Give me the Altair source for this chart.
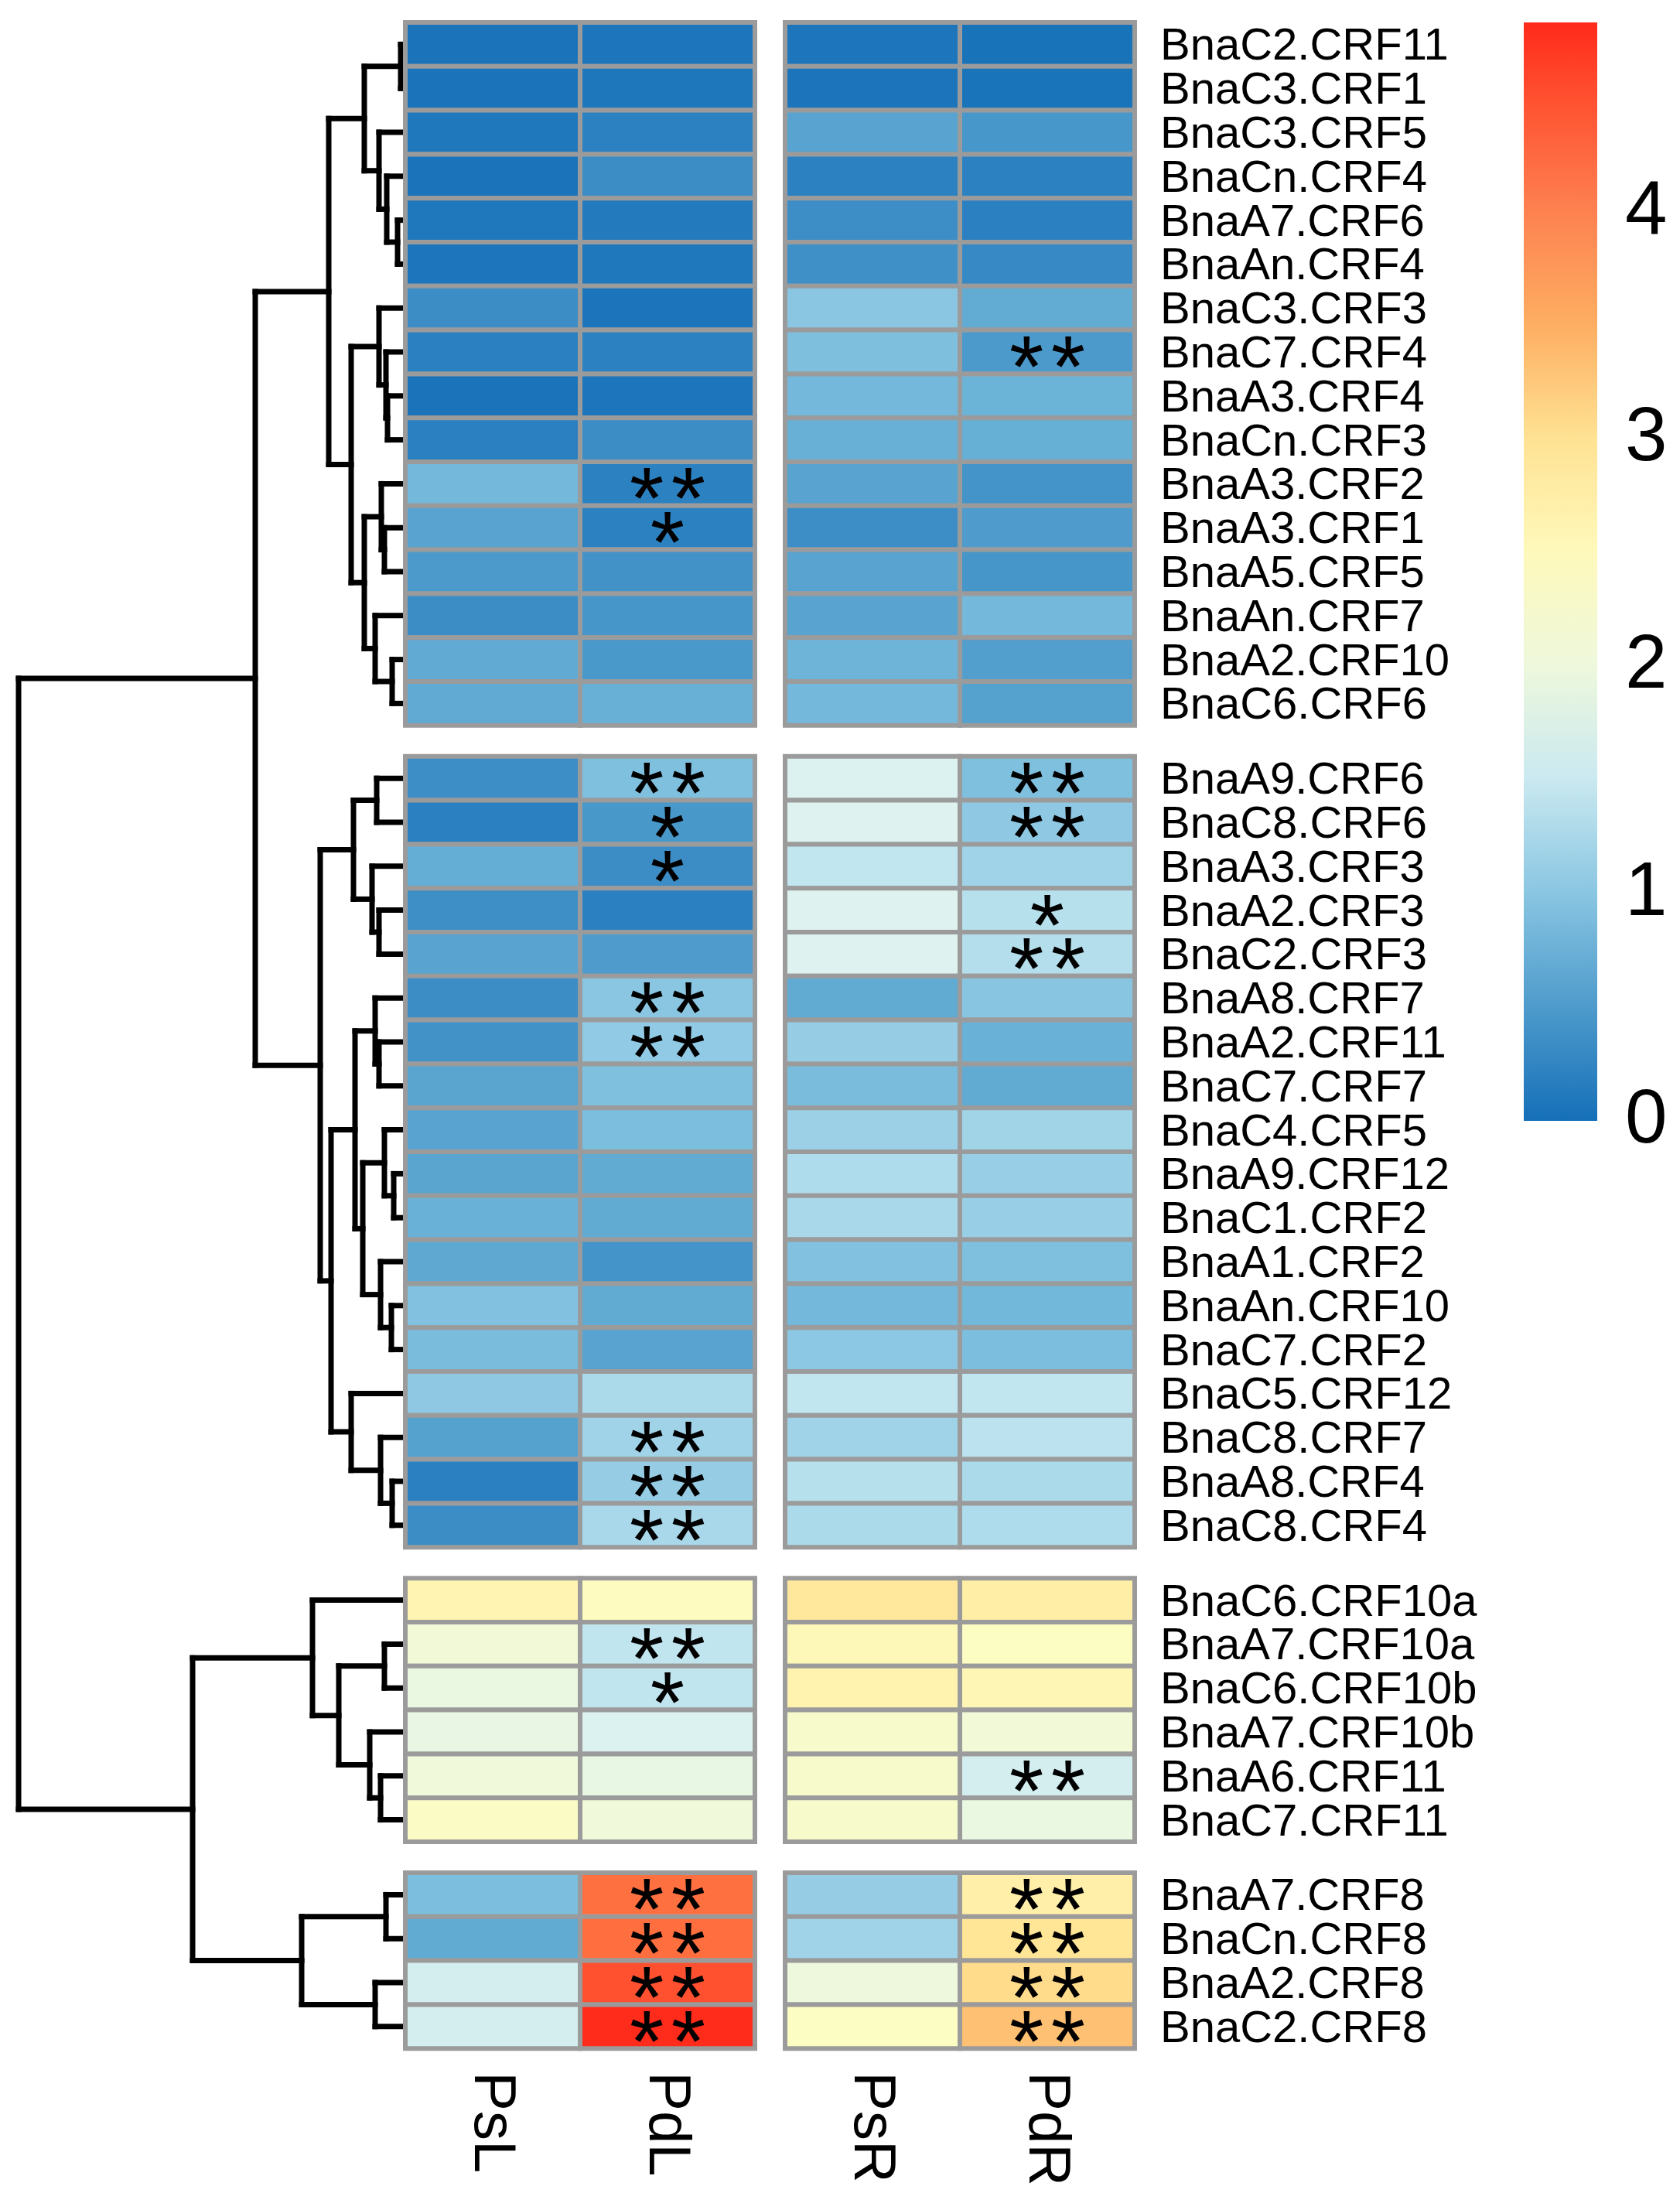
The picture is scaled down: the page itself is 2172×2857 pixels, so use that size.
import altair as alt
import pandas as pd

# ---------------- data ----------------
genes = [
    "BnaC2.CRF11", "BnaC3.CRF1", "BnaC3.CRF5", "BnaCn.CRF4", "BnaA7.CRF6", "BnaAn.CRF4",
    "BnaC3.CRF3", "BnaC7.CRF4", "BnaA3.CRF4", "BnaCn.CRF3", "BnaA3.CRF2", "BnaA3.CRF1",
    "BnaA5.CRF5", "BnaAn.CRF7", "BnaA2.CRF10", "BnaC6.CRF6",
    "BnaA9.CRF6", "BnaC8.CRF6", "BnaA3.CRF3", "BnaA2.CRF3", "BnaC2.CRF3", "BnaA8.CRF7",
    "BnaA2.CRF11", "BnaC7.CRF7", "BnaC4.CRF5", "BnaA9.CRF12", "BnaC1.CRF2", "BnaA1.CRF2",
    "BnaAn.CRF10", "BnaC7.CRF2", "BnaC5.CRF12", "BnaC8.CRF7", "BnaA8.CRF4", "BnaC8.CRF4",
    "BnaC6.CRF10a", "BnaA7.CRF10a", "BnaC6.CRF10b", "BnaA7.CRF10b", "BnaA6.CRF11", "BnaC7.CRF11",
    "BnaA7.CRF8", "BnaCn.CRF8", "BnaA2.CRF8", "BnaC2.CRF8",
]
group_sizes = [16, 18, 6, 4]
columns = ["PsL", "PdL", "PsR", "PdR"]

psl = [0.05, 0.05, 0.10, 0.05, 0.10, 0.07, 0.35, 0.20, 0.05, 0.20, 0.82, 0.58, 0.48, 0.35, 0.65, 0.65,
       0.36, 0.20, 0.68, 0.37, 0.58, 0.35, 0.40, 0.60, 0.58, 0.60, 0.73, 0.63, 0.93, 0.86, 1.03, 0.57, 0.20, 0.35,
       2.65, 2.10, 1.92, 1.90, 2.05, 2.35,
       0.88, 0.66, 1.60, 1.60]
pdl = [0.07, 0.08, 0.22, 0.35, 0.13, 0.10, 0.06, 0.22, 0.07, 0.35, 0.22, 0.22, 0.40, 0.44, 0.47, 0.72,
       0.92, 0.46, 0.35, 0.20, 0.50, 1.00, 1.06, 0.92, 0.88, 0.66, 0.66, 0.42, 0.66, 0.58, 1.27, 1.18, 1.10, 1.25,
       2.45, 1.42, 1.42, 1.68, 1.88, 2.05,
       4.20, 4.22, 4.50, 4.82]
psr = [0.07, 0.06, 0.58, 0.22, 0.36, 0.38, 1.00, 0.90, 0.82, 0.72, 0.58, 0.36, 0.58, 0.58, 0.76, 0.82,
       1.68, 1.70, 1.43, 1.70, 1.70, 0.66, 1.10, 0.86, 1.14, 1.30, 1.25, 0.93, 0.82, 1.02, 1.43, 1.18, 1.35, 1.27,
       2.90, 2.55, 2.68, 2.25, 2.25, 2.25,
       1.10, 1.18, 2.00, 2.38]
pdr = [0.03, 0.04, 0.45, 0.22, 0.20, 0.30, 0.67, 0.48, 0.75, 0.70, 0.42, 0.50, 0.44, 0.82, 0.53, 0.57,
       0.92, 1.03, 1.18, 1.35, 1.33, 0.98, 0.73, 0.66, 1.20, 1.12, 1.12, 0.91, 0.80, 0.88, 1.43, 1.38, 1.27, 1.30,
       2.78, 2.38, 2.60, 2.10, 1.60, 1.92,
       2.75, 2.95, 3.10, 3.35]

sig_gene = ["BnaC7.CRF4", "BnaA3.CRF2", "BnaA3.CRF1", "BnaA9.CRF6", "BnaA9.CRF6", "BnaC8.CRF6",
            "BnaC8.CRF6", "BnaA3.CRF3", "BnaA2.CRF3", "BnaC2.CRF3", "BnaA8.CRF7", "BnaA2.CRF11",
            "BnaC8.CRF7", "BnaA8.CRF4", "BnaC8.CRF4", "BnaA7.CRF10a", "BnaC6.CRF10b", "BnaA6.CRF11",
            "BnaA7.CRF8", "BnaA7.CRF8", "BnaCn.CRF8", "BnaCn.CRF8", "BnaA2.CRF8", "BnaA2.CRF8",
            "BnaC2.CRF8", "BnaC2.CRF8"]
sig_col = ["PdR", "PdL", "PdL", "PdL", "PdR", "PdL",
           "PdR", "PdL", "PdR", "PdR", "PdL", "PdL",
           "PdL", "PdL", "PdL", "PdL", "PdL", "PdR",
           "PdL", "PdR", "PdL", "PdR", "PdL", "PdR",
           "PdL", "PdR"]
sig_mark = ["**", "**", "*", "**", "**", "*",
            "**", "*", "*", "**", "**", "**",
            "**", "**", "**", "**", "*", "**",
            "**", "**", "**", "**", "**", "**",
            "**", "**"]

# hierarchical clustering of rows: (child a, child b, merge height); ints = leaf rows, "nK" = K-th merge
merges = [
    (0, 1, 6), (4, 5, 10), (3, "n1", 24), (2, "n2", 34), ("n0", "n3", 53),
    (8, 9, 23), (7, "n5", 25), (6, "n6", 34), (11, 12, 27), (10, "n8", 31),
    (14, 15, 17), (13, "n10", 39), ("n9", "n11", 53), ("n7", "n12", 70), ("n4", "n13", 99),
    (16, 17, 37), (19, 20, 34), (18, "n16", 43), ("n15", "n17", 67),
    (22, 23, 34), (21, "n19", 39), (25, 26, 15), (24, "n21", 27), (28, 29, 18),
    (27, "n23", 32), ("n22", "n24", 55), ("n20", "n25", 65), (32, 33, 17), (31, "n27", 32),
    (30, "n28", 70), ("n26", "n29", 96), ("n18", "n30", 110), ("n14", "n31", 194),
    (35, 36, 27), (38, 39, 32), (37, "n34", 46), ("n33", "n35", 86), (34, "n36", 120),
    (40, 41, 25), (42, 43, 39), ("n38", "n39", 134), ("n37", "n40", 275),
    ("n32", "n41", 500),
]

# ---------------- layout ----------------
W, H = 2150, 2835
CELL_W, CELL_H = 226.0, 56.8
LEFT_PX, TOP_PX = 516.0, 21.0          # heatmap top-left inside the view
GAP_COL = 39.0 / CELL_W                 # gap between the two panels (column units)
GAP_ROW = 40.0 / CELL_H                 # gap between row groups (row units)
DENDRO_PX = 500.0                       # width of the dendrogram
HSCALE = DENDRO_PX / 500.0 / CELL_W
STAR_FS = 114

x_dom = [-LEFT_PX / CELL_W, (W - LEFT_PX) / CELL_W]
y_dom = [-TOP_PX / CELL_H, (H - TOP_PX) / CELL_H]
xs = alt.Scale(domain=x_dom, nice=False, zero=False)
ys = alt.Scale(domain=y_dom, nice=False, zero=False, reverse=True)

grp = []
for g, n in enumerate(group_sizes):
    grp += [g] * n
row_top = [k + grp[k] * GAP_ROW for k in range(len(genes))]
col_left = [j + (GAP_COL if j >= 2 else 0.0) for j in range(4)]

vals = {"PsL": psl, "PdL": pdl, "PsR": psr, "PdR": pdr}
cells = []
for j, c in enumerate(columns):
    for k, gname in enumerate(genes):
        cells.append(dict(gene=gname, col=c, v=vals[c][k],
                          x=col_left[j], x2=col_left[j] + 1, y=row_top[k], y2=row_top[k] + 1))
cells = pd.DataFrame(cells)

stars = pd.DataFrame([
    dict(gene=gname, col=c, mark="\u200a".join(m),
         x=col_left[columns.index(c)] + 0.5, y=row_top[genes.index(gname)] + 0.5)
    for gname, c, m in zip(sig_gene, sig_col, sig_mark)
])

rowlab = pd.DataFrame(dict(gene=genes, x=[col_left[3] + 1 + 33 / CELL_W] * len(genes),
                           y=[t + 0.5 for t in row_top]))
bottom = row_top[-1] + 1
collab = pd.DataFrame(dict(col=columns, x=[cl + 0.5 for cl in col_left],
                           y=[bottom + 30 / CELL_H] * 4))

# dendrogram segments
pos = {k: (row_top[k] + 0.5, 0.0) for k in range(len(genes))}
segs = []
for i, (a, b, h) in enumerate(merges):
    ya, ha = pos[a]
    yb, hb = pos[b]
    segs.append(dict(x=-ha * HSCALE, x2=-h * HSCALE, y=ya, y2=ya))
    segs.append(dict(x=-hb * HSCALE, x2=-h * HSCALE, y=yb, y2=yb))
    segs.append(dict(x=-h * HSCALE, x2=-h * HSCALE, y=ya, y2=yb))
    pos["n%d" % i] = ((ya + yb) / 2.0, h)
segs = pd.DataFrame(segs)

# ---------------- chart ----------------
stop_v = [-0.005, 0.2, 0.36, 0.6, 0.8, 1.0, 1.25, 1.45, 1.7, 2.0, 2.4, 2.7, 2.95, 3.15, 3.5, 4.0, 4.2, 4.5, 4.83]
stop_c = ["#1670b8", "#2a80c0", "#3d8ec6", "#5aa5d0", "#72b8da", "#8ac6e2", "#a8d8ea", "#c5e7f0",
          "#def3f0", "#eef8dc", "#fdfdc2", "#fff2ae", "#ffe596", "#ffd888", "#fdae62", "#fd8150",
          "#ff7040", "#ff5030", "#ff2a1a"]

FONT = "Liberation Sans"

dendro = alt.Chart(segs).mark_rule(color="black", strokeWidth=7, strokeCap="square").encode(
    x=alt.X("x:Q", scale=xs, axis=None), x2="x2:Q",
    y=alt.Y("y:Q", scale=ys, axis=None), y2="y2:Q",
)

heat = alt.Chart(cells).mark_rect(stroke="#9b9b9b", strokeWidth=6).encode(
    x=alt.X("x:Q", scale=xs, axis=None), x2="x2:Q",
    y=alt.Y("y:Q", scale=ys, axis=None), y2="y2:Q",
    color=alt.Color(
        "v:Q", title=None,
        scale=alt.Scale(domain=stop_v, range=stop_c, interpolate="rgb"),
        legend=alt.Legend(
            orient="none", legendX=1962, legendY=21, direction="vertical",
            gradientLength=1420, gradientThickness=95, gradientStrokeWidth=0,
            values=[0, 1, 2, 3, 4], format="d", labelFontSize=98, labelFont=FONT,
            labelColor="black", labelOffset=36, labelBaseline="middle", padding=0,
        ),
    ),
)

star_txt = alt.Chart(stars).mark_text(
    font=FONT, fontSize=STAR_FS, baseline="alphabetic", align="center",
    dy=round(0.51 * STAR_FS), color="black"
).encode(
    x=alt.X("x:Q", scale=xs, axis=None), y=alt.Y("y:Q", scale=ys, axis=None), text="mark:N"
)

row_txt = alt.Chart(rowlab).mark_text(
    font=FONT, fontSize=58, baseline="middle", align="left", dy=3, color="black"
).encode(
    x=alt.X("x:Q", scale=xs, axis=None), y=alt.Y("y:Q", scale=ys, axis=None), text="gene:N"
)

col_txt = alt.Chart(collab).mark_text(
    font=FONT, fontSize=76, baseline="middle", align="left", angle=90, color="black"
).encode(
    x=alt.X("x:Q", scale=xs, axis=None), y=alt.Y("y:Q", scale=ys, axis=None), text="col:N"
)

chart = alt.layer(dendro, heat, star_txt, row_txt, col_txt).properties(
    width=W, height=H, padding=0, autosize=alt.AutoSizeParams(type="none"),
    background="white",
).configure_view(strokeWidth=0)

chart.save("out.html", embed_options={"renderer": "svg", "actions": False})
